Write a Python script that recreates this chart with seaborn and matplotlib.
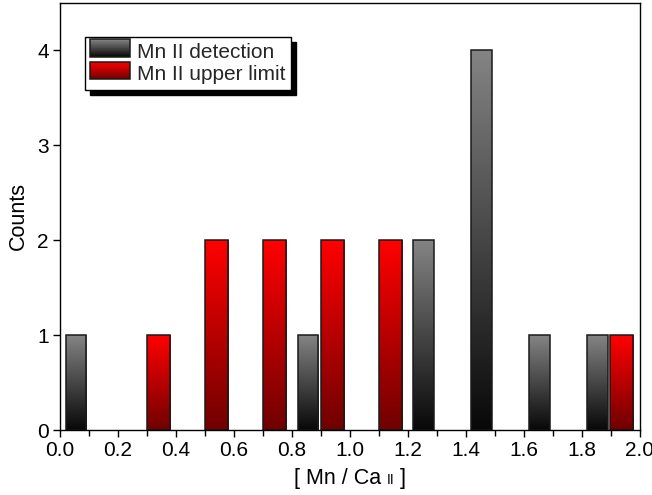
import numpy as np
import pandas as pd
import matplotlib
matplotlib.use("Agg")
import matplotlib.pyplot as plt
import seaborn as sns
from matplotlib.patches import Rectangle, Shadow
from matplotlib.colors import LinearSegmentedColormap
from matplotlib.offsetbox import TextArea, HPacker, AnchoredOffsetbox
from matplotlib.ticker import MultipleLocator

# ---- data ----
det_x = [0.055, 0.855, 1.254, 1.453, 1.652, 1.852]
det_counts = [1, 1, 2, 4, 1, 1]
ul_x = [0.34, 0.54, 0.74, 0.941, 1.139, 1.937]
ul_counts = [1, 2, 2, 2, 2, 1]
series_labels = ["Mn II detection", "Mn II upper limit"]
x_ticks = [0.0, 0.2, 0.4, 0.6, 0.8, 1.0, 1.2, 1.4, 1.6, 1.8, 2.0]
y_ticks = [0, 1, 2, 3, 4]

sns.set_theme(style="ticks")
plt.rcParams["font.family"] = ["Liberation Sans", "DejaVu Sans"]

fig = plt.figure(figsize=(6.52, 4.95), dpi=100)
ax = fig.add_axes([60 / 652, 65 / 495, 580 / 652, 427 / 495])

det_df = pd.DataFrame({"x": det_x, "count": det_counts})
ul_df = pd.DataFrame({"x": ul_x, "count": ul_counts})

det_w = 0.072 / np.min(np.diff(np.sort(det_x)))
ul_w = 0.080 / np.min(np.diff(np.sort(ul_x)))

sns.barplot(data=det_df, x="x", y="count", native_scale=True, orient="x",
            width=det_w, color="gray", errorbar=None, ax=ax,
            edgecolor="#1a1a1a", linewidth=1.1)
n_det = len(ax.patches)
sns.barplot(data=ul_df, x="x", y="count", native_scale=True, orient="x",
            width=ul_w, color="red", errorbar=None, ax=ax,
            edgecolor="#1a1a1a", linewidth=1.1)

gray_top, gray_bot = "#848484", "#080808"
red_top, red_bot = "#ff0000", "#700000"
gray_cmap = LinearSegmentedColormap.from_list("g", [gray_bot, gray_top])
red_cmap = LinearSegmentedColormap.from_list("r", [red_bot, red_top])
grad = np.linspace(0, 1, 256).reshape(-1, 1)

for i, p in enumerate(list(ax.patches)):
    cmap = gray_cmap if i < n_det else red_cmap
    x0, w, h = p.get_x(), p.get_width(), p.get_height()
    if h <= 0:
        continue
    im = ax.imshow(grad, cmap=cmap, extent=[x0, x0 + w, 0, h], origin="lower",
                   aspect="auto", zorder=p.get_zorder() - 0.01,
                   interpolation="bilinear")
    im.set_clip_path(p)
    p.set_facecolor("none")

ax.set_xlim(0, 2)
ax.set_ylim(0, 4.5)
ax.set_xticks(x_ticks)
ax.set_xticklabels([f"{v:.1f}" for v in x_ticks])
ax.set_yticks(y_ticks)
ax.set_yticklabels([str(v) for v in y_ticks])
ax.xaxis.set_minor_locator(MultipleLocator(0.1))
ax.tick_params(which="major", direction="out", length=5, width=1,
               labelsize=15, colors="black", pad=3)
ax.tick_params(which="minor", direction="out", length=4, width=1, colors="black")
for s in ax.spines.values():
    s.set_visible(True)
    s.set_color("black")
    s.set_linewidth(1)
ax.set_facecolor("white")

ax.set_xlabel("")
ax.set_ylabel("Counts", fontsize=15.5, color="black", labelpad=6)

# x label with small "II"
label = HPacker(children=[
    TextArea("[ Mn / Ca ", textprops=dict(fontsize=15.5, color="black")),
    TextArea("II", textprops=dict(fontsize=10, color="black")),
    TextArea(" ]", textprops=dict(fontsize=15.5, color="black")),
], align="baseline", pad=0, sep=0)
anch = AnchoredOffsetbox(loc="upper center", child=label, frameon=False,
                         bbox_to_anchor=(0.5, -0.088), bbox_transform=ax.transAxes,
                         borderpad=0, pad=0)
ax.add_artist(anch)


class GradientHandler:
    def __init__(self, bottom, top):
        self.cmap = LinearSegmentedColormap.from_list("h", [bottom, top])

    def legend_artist(self, legend, orig_handle, fontsize, handlebox):
        x0, y0 = handlebox.xdescent, handlebox.ydescent
        w, h = handlebox.width, handlebox.height
        n = 40
        tr = handlebox.get_transform()
        for k in range(n):
            c = self.cmap((k + 0.5) / n)
            handlebox.add_artist(Rectangle((x0, y0 + h * k / n), w, h / n * 1.05,
                                           facecolor=c, edgecolor="none",
                                           transform=tr))
        border = Rectangle((x0, y0), w, h, facecolor="none",
                           edgecolor="#1a1a1a", linewidth=1.1, transform=tr)
        handlebox.add_artist(border)
        return border


h1 = Rectangle((0, 0), 1, 1)
h2 = Rectangle((0, 0), 1, 1)
leg = ax.legend([h1, h2], series_labels,
                handler_map={h1: GradientHandler(gray_bot, gray_top),
                             h2: GradientHandler(red_bot, red_top)},
                loc="upper left", bbox_to_anchor=(25 / 580, 393 / 427),
                borderaxespad=0, fontsize=15, frameon=True, fancybox=False,
                edgecolor="black", framealpha=1, handlelength=1.9,
                handleheight=0.9, handletextpad=0.35, borderpad=0.25,
                labelspacing=0.12)
leg.get_frame().set_linewidth(1)

fig.canvas.draw()
shadow = Shadow(leg.legendPatch, 3.6, -3.6, facecolor="black",
                edgecolor="black", alpha=1)
ax.add_artist(shadow)

fig.savefig("out.png", dpi=100, facecolor="white")
